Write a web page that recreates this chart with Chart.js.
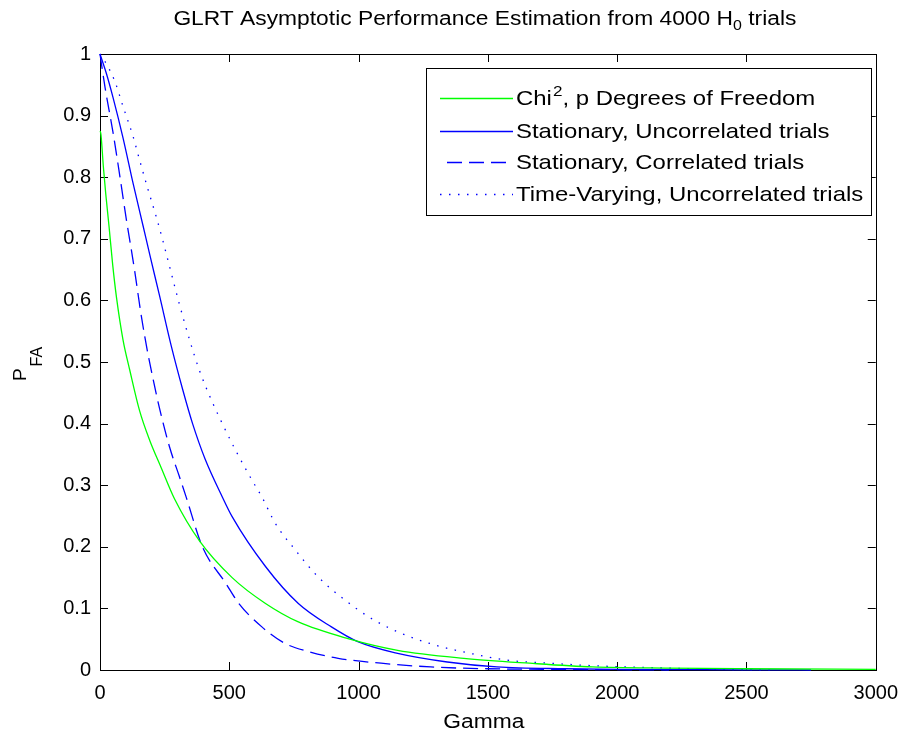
<!DOCTYPE html>
<html>
<head>
<meta charset="utf-8">
<script src="https://cdn.jsdelivr.net/npm/chart.js@4"></script>
<style>
html,body{margin:0;padding:0;background:#fff;}
#wrap{width:909px;height:736px;position:relative;}
</style>
</head>
<body>
<div id="wrap"><canvas id="c" width="909" height="736"></canvas></div>
<script>
// ---- data ----
const seriesNames = ["Chi2, p Degrees of Freedom", "Stationary, Uncorrelated trials", "Stationary, Correlated trials", "Time-Varying, Uncorrelated trials"];

const gammaChi = [1, 4, 13, 22, 35, 49, 64, 89, 115, 153, 192, 237, 288, 384, 511, 640, 767, 959, 1151, 1407, 1661, 1905, 2200, 2500, 3000];
const pfaChi   = [0.875, 0.868, 0.817, 0.774, 0.720, 0.658, 0.604, 0.536, 0.487, 0.421, 0.373, 0.328, 0.278, 0.210, 0.150, 0.108, 0.078, 0.051, 0.032, 0.019, 0.011, 0.005, 0.003, 0.002, 0.001];

const gammaSU = [0, 25, 50, 89, 128, 166, 192, 230, 275, 320, 358, 406, 473, 511, 640, 767, 895, 997, 1151, 1343, 1535, 1800, 2000, 2500, 2750];
const pfaSU   = [1.000, 0.968, 0.930, 0.864, 0.790, 0.722, 0.675, 0.608, 0.527, 0.455, 0.400, 0.343, 0.281, 0.249, 0.168, 0.108, 0.070, 0.046, 0.027, 0.013, 0.005, 0.002, 0.001, 0.0003, 0];

const gammaSC = [0, 19, 51, 77, 102, 122, 134, 160, 185, 204, 230, 269, 307, 333, 396, 486, 537, 626, 716, 806, 921, 1087, 1279, 1500, 1800, 2200];
const pfaSC   = [1.000, 0.947, 0.871, 0.801, 0.731, 0.680, 0.648, 0.574, 0.514, 0.475, 0.425, 0.362, 0.314, 0.281, 0.200, 0.141, 0.108, 0.070, 0.043, 0.030, 0.019, 0.011, 0.005, 0.002, 0.001, 0];

const gammaTV = [0, 30, 58, 89, 128, 153, 185, 218, 243, 269, 307, 345, 384, 429, 473, 524, 588, 626, 678, 755, 844, 946, 1048, 1151, 1292, 1432, 1573, 1739, 1905, 2200, 2400, 2600];
const pfaTV   = [1.000, 0.980, 0.955, 0.915, 0.866, 0.828, 0.781, 0.735, 0.697, 0.655, 0.594, 0.538, 0.487, 0.440, 0.400, 0.357, 0.308, 0.281, 0.238, 0.195, 0.151, 0.114, 0.084, 0.062, 0.041, 0.027, 0.016, 0.011, 0.007, 0.003, 0.001, 0];

const xTicks = [0, 500, 1000, 1500, 2000, 2500, 3000];
const yTicks = [0, 0.1, 0.2, 0.3, 0.4, 0.5, 0.6, 0.7, 0.8, 0.9, 1];

// ---- styling ----
const FONT = "'Liberation Sans', Arial, Helvetica, sans-serif";
const GREEN = "#00ff00", BLUE = "#0000ff";
const STRETCH = 1.14;
const styles = [
  {color: GREEN, dash: []},
  {color: BLUE, dash: []},
  {color: BLUE, dash: [15, 7]},
  {color: BLUE, dash: [1.5, 7.5]}
];

function pts(xs, ys){ return xs.map((x,i)=>({x:x, y:ys[i]})); }

const datasets = [
  pts(gammaChi, pfaChi), pts(gammaSU, pfaSU), pts(gammaSC, pfaSC), pts(gammaTV, pfaTV)
].map((d,i)=>({
  label: seriesNames[i],
  data: d,
  borderColor: styles[i].color,
  borderDash: styles[i].dash,
  borderWidth: 1.3,
  pointRadius: 0,
  fill: false,
  cubicInterpolationMode: 'monotone',
  clip: 3
}));

function fmtTick(v){ return (Math.round(v*10)/10).toString(); }

// draw text horizontally stretched, returns advance width
function sText(ctx, txt, x, y, font){
  ctx.font = font;
  const w = ctx.measureText(txt).width;
  ctx.save();
  ctx.translate(x, y);
  ctx.scale(STRETCH, 1);
  ctx.fillText(txt, 0, 0);
  ctx.restore();
  return w * STRETCH;
}
function sWidth(ctx, txt, font){ ctx.font = font; return ctx.measureText(txt).width * STRETCH; }

const matlabPlugin = {
  id: 'matlab',
  beforeDatasetsDraw(chart){
    const ctx = chart.ctx, a = chart.chartArea;
    const xs = chart.scales.x, ys = chart.scales.y;
    ctx.save();
    ctx.strokeStyle = '#000';
    ctx.lineWidth = 1;
    ctx.strokeRect(Math.round(a.left)+0.5, Math.round(a.top)+0.5, Math.round(a.right-a.left), Math.round(a.bottom-a.top));
    const L = 8;
    ctx.beginPath();
    xTicks.forEach(v=>{
      const px = Math.round(xs.getPixelForValue(v))+0.5;
      ctx.moveTo(px, a.bottom); ctx.lineTo(px, a.bottom - L);
      ctx.moveTo(px, a.top); ctx.lineTo(px, a.top + L);
    });
    yTicks.forEach(v=>{
      const py = Math.round(ys.getPixelForValue(v))+0.5;
      ctx.moveTo(a.left, py); ctx.lineTo(a.left + L, py);
      ctx.moveTo(a.right, py); ctx.lineTo(a.right - L, py);
    });
    ctx.stroke();
    ctx.restore();
  },
  afterDraw(chart){
    const ctx = chart.ctx, a = chart.chartArea;
    ctx.save();
    ctx.fillStyle = '#000';
    ctx.textBaseline = 'alphabetic'; ctx.textAlign = 'left';
    // title with subscript
    const tFont = '20px ' + FONT, sFont = '14px ' + FONT;
    const t1 = 'GLRT Asymptotic Performance Estimation from 4000 H', t2 = '0', t3 = ' trials';
    const tw = sWidth(ctx, t1, tFont) + sWidth(ctx, t2, sFont) + sWidth(ctx, t3, tFont);
    let tx = (a.left + a.right)/2 - 3 - tw/2, ty = 25;
    tx += sText(ctx, t1, tx, ty, tFont);
    tx += sText(ctx, t2, tx, ty + 5, sFont);
    sText(ctx, t3, tx, ty, tFont);

    // x-axis title
    const gw = sWidth(ctx, 'Gamma', '20px ' + FONT);
    sText(ctx, 'Gamma', (a.left + a.right)/2 - 4 - gw/2, 728, '20px ' + FONT);

    // y-axis title P_FA rotated
    ctx.save();
    ctx.translate(0, 364);
    ctx.rotate(-Math.PI/2);
    ctx.font = '19px ' + FONT; const pw = ctx.measureText('P').width;
    ctx.font = '16px ' + FONT; const fw = ctx.measureText('FA').width;
    const sx = -(pw + fw + 2)/2;
    ctx.font = '19px ' + FONT; ctx.fillText('P', sx, 26);
    ctx.font = '16px ' + FONT; ctx.fillText('FA', sx + pw + 2, 42);
    ctx.restore();

    // legend
    const lx = 426, ly = 68, lw = 445, lh = 147;
    ctx.fillStyle = '#fff'; ctx.fillRect(lx, ly, lw, lh);
    ctx.strokeStyle = '#000'; ctx.lineWidth = 1;
    ctx.strokeRect(lx + 0.5, ly + 0.5, lw, lh);
    const rows = [98, 131, 162, 194];
    ctx.textBaseline = 'middle';
    rows.forEach((ry, i)=>{
      ctx.save();
      ctx.strokeStyle = styles[i].color;
      ctx.lineWidth = 1.3;
      ctx.setLineDash(styles[i].dash);
      ctx.beginPath(); ctx.moveTo(i===2 ? 447 : 440, ry + 0.5); ctx.lineTo(513, ry + 0.5); ctx.stroke();
      ctx.restore();
      ctx.fillStyle = '#000';
      let txX = 516;
      const F = '21px ' + FONT;
      if (i === 0) {
        txX += sText(ctx, 'Chi', txX, ry + 1, F);
        txX += sText(ctx, '2', txX + 1, ry - 6, '15px ' + FONT) + 1;
        sText(ctx, ', p Degrees of Freedom', txX, ry + 1, F);
      } else {
        sText(ctx, seriesNames[i], txX, ry + 1, F);
      }
    });
    ctx.restore();
  }
};

new Chart(document.getElementById('c'), {
  type: 'line',
  data: { datasets: datasets },
  options: {
    responsive: false,
    animation: false,
    layout: { padding: { left: 0, right: 27, top: 54, bottom: 0 } },
    plugins: { legend: { display: false }, title: { display: false }, tooltip: { enabled: false } },
    scales: {
      x: {
        type: 'linear', min: 0, max: 3000,
        afterBuildTicks(s){ s.ticks = xTicks.map(v=>({value:v})); },
        afterFit(s){ s.height = 66; },
        grid: { display: false, drawTicks: false },
        border: { display: false },
        ticks: { color: '#000', font: { family: FONT, size: 20 }, padding: 11, maxRotation: 0, autoSkip: false, callback: v => v.toString() }
      },
      y: {
        type: 'linear', min: 0, max: 1,
        afterBuildTicks(s){ s.ticks = yTicks.map(v=>({value:v})); },
        afterFit(s){ s.width = 100; },
        grid: { display: false, drawTicks: false },
        border: { display: false },
        ticks: { color: '#000', font: { family: FONT, size: 20 }, padding: 9, autoSkip: false, callback: v => fmtTick(v) }
      }
    }
  },
  plugins: [matlabPlugin]
});
</script>
</body>
</html>
